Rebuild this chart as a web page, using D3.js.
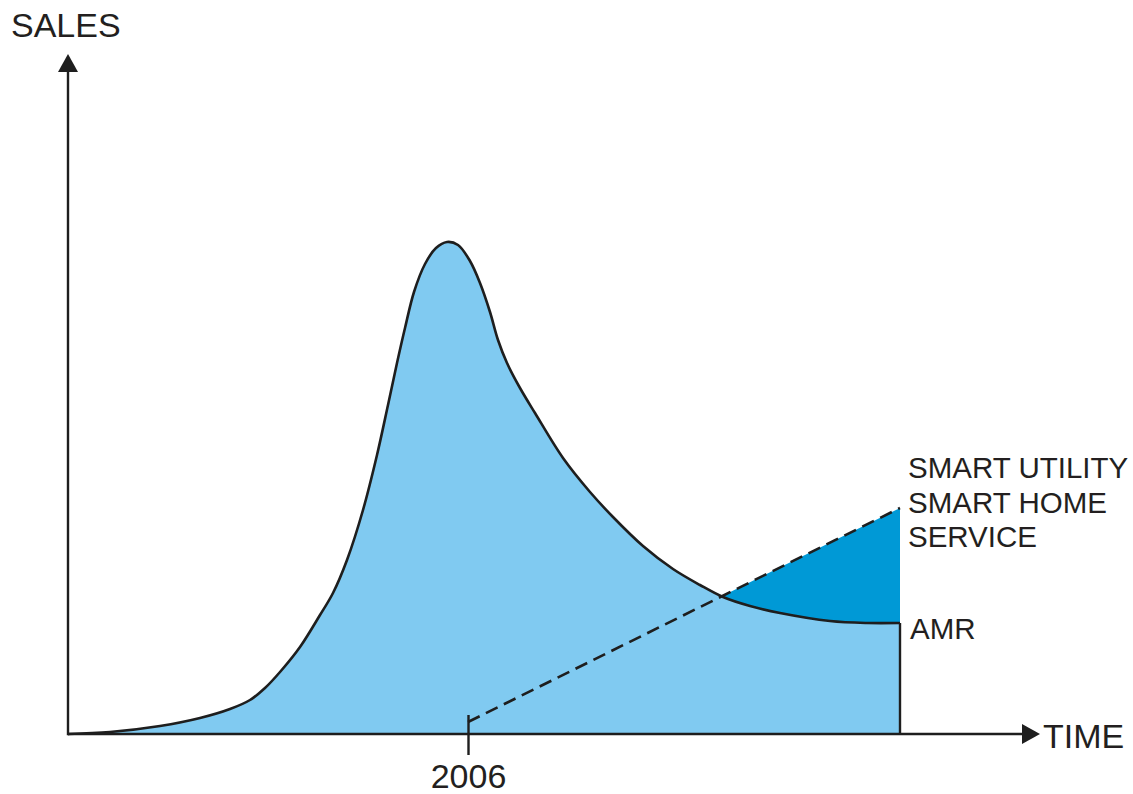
<!DOCTYPE html>
<html>
<head>
<meta charset="utf-8">
<script src="https://cdn.jsdelivr.net/npm/d3@7"></script>
<style>
  html, body { margin: 0; padding: 0; background: #fff; }
  svg { display: block; }
  text { font-family: "Liberation Sans", Arial, Helvetica, sans-serif; fill: #231f20; }
</style>
</head>
<body>
<svg id="chart" width="1133" height="794"></svg>
<script>
// ---- data ----
const years = [1996.000, 1997.050, 1998.300, 1999.300, 2000.050, 2000.550, 2000.925, 2001.300, 2001.800, 2002.300,
               2002.625, 2002.975, 2003.375, 2003.725, 2004.000, 2004.225, 2004.425, 2004.650, 2004.925, 2005.200,
               2005.475, 2005.750, 2006.050, 2006.300, 2006.550, 2006.750, 2006.975, 2007.300, 2007.675, 2008.375,
               2009.050, 2009.625, 2010.375, 2011.125, 2011.800, 2012.375, 2013.050, 2013.800, 2015.050, 2015.975,
               2016.800];
const amrSales = [0.0, 0.4, 1.6, 3.2, 5.0, 6.8, 9.2, 12.4, 17.4, 23.8,
                  28.2, 34.8, 44.8, 55.8, 65.8, 74.2, 81.2, 88.4, 94.0, 97.2,
                  98.4, 97.8, 94.6, 90.2, 84.4, 78.8, 74.2, 69.2, 64.2, 55.2,
                  48.4, 43.4, 37.6, 33.0, 29.8, 27.4, 25.6, 24.2, 22.6, 22.2,
                  22.2];
const smartYears = [2006.0, 2016.80];
const smartSales = [2.4, 45.2];
const tickYears = [2006];
const tickLabels = ["2006"];
const axisLabels = ["SALES", "TIME"];
const smartLabels = ["SMART UTILITY", "SMART HOME", "SERVICE"];
const amrLabel = "AMR";

// ---- setup ----
const svg = d3.select("#chart");
const x = d3.scaleLinear().domain([1996, 2020.3]).range([68, 1040]);
const y = d3.scaleLinear().domain([0, 136]).range([734, 54]);

const LIGHT = "#80caf1";
const DARK = "#0099d6";
const INK = "#1e1e1e";

const amr = years.map((t, i) => ({ t, s: amrSales[i] }));
const smart = smartYears.map((t, i) => ({ t, s: smartSales[i] }));
const curve = d3.curveCatmullRom.alpha(0.5);
const tEnd = years[years.length - 1];

// light area under AMR curve
svg.append("path")
  .datum(amr)
  .attr("fill", LIGHT)
  .attr("d", d3.area().x(d => x(d.t)).y0(y(0)).y1(d => y(d.s)).curve(curve));

// clip: region above the AMR curve
const defs = svg.append("defs");
defs.append("clipPath").attr("id", "above")
  .append("path")
  .datum(amr)
  .attr("d", d3.area().x(d => x(d.t)).y0(0).y1(d => y(d.s)).curve(curve));

// dark region: below dashed line, above curve
svg.append("path")
  .datum(smart)
  .attr("clip-path", "url(#above)")
  .attr("fill", DARK)
  .attr("d", d3.area().x(d => x(d.t)).y0(y(0)).y1(d => y(d.s)));

// AMR curve outline
svg.append("path")
  .datum(amr)
  .attr("fill", "none")
  .attr("stroke", INK)
  .attr("stroke-width", 2.6)
  .attr("stroke-linejoin", "round")
  .attr("d", d3.line().x(d => x(d.t)).y(d => y(d.s)).curve(curve));

// vertical end line
svg.append("line")
  .attr("x1", x(tEnd)).attr("x2", x(tEnd))
  .attr("y1", y(amrSales[amrSales.length - 1])).attr("y2", y(0))
  .attr("stroke", INK).attr("stroke-width", 2.4);

// dashed line
svg.append("path")
  .datum(smart)
  .attr("fill", "none")
  .attr("stroke", INK)
  .attr("stroke-width", 2.6)
  .attr("stroke-dasharray", "13,7")
  .attr("d", d3.line().x(d => x(d.t)).y(d => y(d.s)));

// x axis with tick
const xAxis = d3.axisBottom(x).tickValues(tickYears).tickFormat((d, i) => tickLabels[i])
  .tickSize(21).tickSizeOuter(0).tickPadding(9);
const gx = svg.append("g").attr("transform", `translate(0,${y(0)})`).call(xAxis);
gx.select(".domain").remove();
gx.selectAll(".tick line").attr("stroke", INK).attr("stroke-width", 2.4).attr("y1", -19);
gx.selectAll(".tick text").attr("font-size", 34).attr("fill", "#231f20")
  .attr("font-family", "Liberation Sans, Arial, sans-serif");

// axis lines
svg.append("line")
  .attr("x1", x(1996)).attr("x2", x(2020.3) - 17)
  .attr("y1", y(0)).attr("y2", y(0))
  .attr("stroke", INK).attr("stroke-width", 2.4);
svg.append("line")
  .attr("x1", x(1996)).attr("x2", x(1996))
  .attr("y1", y(0) + 1.2).attr("y2", y(136) + 17)
  .attr("stroke", INK).attr("stroke-width", 2.4);

// arrow heads
const xa = x(2020.3), ya = y(0);
svg.append("path")
  .attr("fill", INK)
  .attr("d", `M${xa},${ya} L${xa - 18},${ya - 10} L${xa - 18},${ya + 10} Z`);
const xb = x(1996), yb = y(136);
svg.append("path")
  .attr("fill", INK)
  .attr("d", `M${xb},${yb} L${xb - 10},${yb + 18} L${xb + 10},${yb + 18} Z`);

// axis labels
svg.append("text").attr("x", 11).attr("y", 37).attr("font-size", 34).text(axisLabels[0]);
svg.append("text").attr("x", 1043).attr("y", 748).attr("font-size", 34).text(axisLabels[1]);

// series labels
const lblX = x(tEnd) + 8;
smartLabels.forEach((s, i) => {
  svg.append("text").attr("x", lblX).attr("y", 478 + i * 34.5).attr("font-size", 29.5).text(s);
});
svg.append("text").attr("x", lblX + 2).attr("y", 639).attr("font-size", 29.5).text(amrLabel);
</script>
</body>
</html>
